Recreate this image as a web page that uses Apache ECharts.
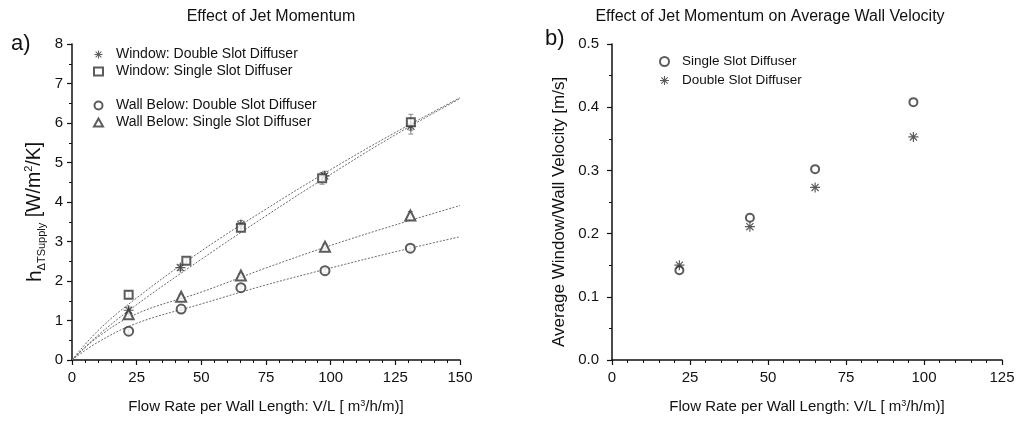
<!DOCTYPE html>
<html>
<head>
<meta charset="utf-8">
<script src="https://cdn.jsdelivr.net/npm/echarts@6/dist/echarts.min.js"></script>
<style>
  html, body { margin: 0; padding: 0; background: #fff; }
  #chart { width: 1021px; height: 422px; }
</style>
</head>
<body>
<div id="chart"></div>
<script>
// ---- panel a) measured points ----
const flowA = [21.9, 42.2, 65.3, 97.8, 130.8]
const windowDoubleX = [21.9, 41.9, 65.3, 97.7, 131.0]
const windowDouble = [1.26, 2.34, 3.43, 4.66, 5.92]
const windowDoubleErr = [0.08, 0.07, 0.1, 0.12, 0.2]
const windowSingleX = [21.9, 44.2, 65.3, 96.7, 131.0]
const windowSingle = [1.65, 2.51, 3.35, 4.6, 6.02]
const windowSingleErr = [0.09, 0.06, 0.08, 0.15, 0.2]
const wallDouble = [0.73, 1.29, 1.83, 2.26, 2.83]
const wallDoubleErr = [0.05, 0.04, 0.04, 0.05, 0.06]
const wallSingle = [1.16, 1.6, 2.14, 2.87, 3.66]
const wallSingleErr = [0.05, 0.05, 0.05, 0.06, 0.1]

// ---- panel a) fitted curves ----
const fitX = [0, 10, 25, 50, 75, 100, 125, 150]
const fitWindowDouble = [0, 0.62, 1.4, 2.55, 3.65, 4.7, 5.7, 6.62]
const fitWindowSingle = [0, 0.74, 1.57, 2.76, 3.82, 4.82, 5.76, 6.64]
const fitWallSingle = [0, 0.58, 1.17, 1.72, 2.33, 2.9, 3.42, 3.91]
const fitWallDouble = [0, 0.45, 0.93, 1.42, 1.9, 2.33, 2.74, 3.12]

// ---- panel b) ----
const flowB = [21.6, 44.2, 65.1, 96.6]
const velSingle = [0.142, 0.225, 0.302, 0.408]
const velDouble = [0.15, 0.211, 0.273, 0.353]

const STAR = 'path://M8.8,0L11.2,0L11.2,20L8.8,20Z M0,8.8L20,8.8L20,11.2L0,11.2Z M2,3.7L3.7,2L18,16.3L16.3,18Z M16.3,2L18,3.7L3.7,18L2,16.3Z'
const FONT = 'Liberation Sans'
const INK = '#333'

const zip = (xs, ys) => xs.map((x, i) => [x, ys[i]])
const zip3 = (xs, ys, es) => xs.map((x, i) => [x, ys[i], es[i]])

function errorBars(name, xAxisIndex, yAxisIndex, data) {
  return {
    name: name + ' err',
    type: 'custom',
    xAxisIndex,
    yAxisIndex,
    silent: true,
    z: 1,
    data,
    renderItem: (params, api) => {
      const x = api.value(0)
      const top = api.coord([x, api.value(1) + api.value(2)])
      const bot = api.coord([x, api.value(1) - api.value(2)])
      const style = { stroke: '#8a8a8a', lineWidth: 1 }
      return {
        type: 'group',
        children: [
          { type: 'line', shape: { x1: top[0], y1: top[1], x2: bot[0], y2: bot[1] }, style },
          { type: 'line', shape: { x1: top[0] - 2.5, y1: top[1], x2: top[0] + 2.5, y2: top[1] }, style },
          { type: 'line', shape: { x1: bot[0] - 2.5, y1: bot[1], x2: bot[0] + 2.5, y2: bot[1] }, style },
        ],
      }
    },
  }
}

function fitLine(name, data) {
  return {
    name,
    type: 'line',
    xAxisIndex: 0,
    yAxisIndex: 0,
    data,
    smooth: 0.4,
    showSymbol: false,
    silent: true,
    z: 1,
    lineStyle: { color: '#6a6a6a', width: 1, type: [2, 1.5] },
  }
}

function points(name, symbol, size, xAxisIndex, data) {
  const hollow = symbol.startsWith('empty')
  return {
    name,
    type: 'scatter',
    xAxisIndex,
    yAxisIndex: xAxisIndex,
    symbol,
    symbolSize: size,
    data,
    z: 3,
    itemStyle: hollow
      ? { color: INK, borderColor: INK, borderWidth: 1 }
      : { color: INK },
  }
}

function xAxisBase(gridIndex, max) {
  return {
    type: 'value',
    gridIndex,
    min: 0,
    max,
    interval: 25,
    axisLine: { lineStyle: { color: '#111', width: 1.5 } },
    axisTick: { length: 5, lineStyle: { color: '#111', width: 1.2 } },
    minorTick: { show: true, splitNumber: 5, length: 3, lineStyle: { color: '#111', width: 1 } },
    splitLine: { show: false },
    axisLabel: { color: '#111', fontSize: 15, fontFamily: FONT, margin: 10 },
    name: 'Flow Rate per Wall Length: V/L [ m{sup|3}/h/m)]',
    nameLocation: 'middle',
    nameGap: 39,
    nameTextStyle: {
      color: '#111', fontSize: 15, fontFamily: FONT,
      rich: { sup: { fontSize: 9, fontFamily: FONT, color: '#111', verticalAlign: 'top', lineHeight: 10 } },
    },
  }
}

function yAxisBase(gridIndex, max, interval, margin) {
  return {
    type: 'value',
    gridIndex,
    min: 0,
    max,
    interval,
    axisLine: { show: true, lineStyle: { color: '#111', width: 1.5 } },
    axisTick: { show: true, length: 5, lineStyle: { color: '#111', width: 1.2 } },
    minorTick: { show: true, splitNumber: 2, length: 3, lineStyle: { color: '#111', width: 1 } },
    splitLine: { show: false },
    axisLabel: { color: '#111', fontSize: 15, fontFamily: FONT, margin },
  }
}

const chart = echarts.init(document.getElementById('chart'), null, { renderer: 'canvas' })

const titleStyle = { fontSize: 16, fontWeight: 'normal', color: '#111', fontFamily: FONT }
const panelStyle = { fontSize: 22, fontWeight: 'normal', color: '#111', fontFamily: FONT }

const option = {
  animation: false,
  backgroundColor: '#fff',
  textStyle: { fontFamily: FONT },
  title: [
    { text: 'Effect of Jet Momentum', left: 266, top: 4, textAlign: 'center', textStyle: titleStyle },
    { text: 'Effect of Jet Momentum on Average Wall Velocity', left: 765, top: 4, textAlign: 'center', textStyle: titleStyle },
    { text: 'a)', left: 6, top: 28, textStyle: panelStyle },
    { text: 'b)', left: 540, top: 23, textStyle: panelStyle },
  ],
  legend: [
    {
      orient: 'vertical', left: 88, top: 41, itemWidth: 9, itemHeight: 8, itemGap: 0,
      textStyle: { fontSize: 14, color: '#111', fontFamily: FONT, lineHeight: 17, padding: [0, 0, 0, 8] },
      data: [
        { name: 'Window: Double Slot Diffuser', icon: STAR },
        { name: 'Window: Single Slot Diffuser', icon: 'emptyRect' },
      ],
    },
    {
      orient: 'vertical', left: 88, top: 92, itemWidth: 9, itemHeight: 8, itemGap: 0,
      textStyle: { fontSize: 14, color: '#111', fontFamily: FONT, lineHeight: 17, padding: [0, 0, 0, 8] },
      data: [
        { name: 'Wall Below: Double Slot Diffuser', icon: 'emptyCircle' },
        { name: 'Wall Below: Single Slot Diffuser', icon: 'emptyTriangle' },
      ],
    },
    {
      orient: 'vertical', left: 654, top: 47, itemWidth: 9, itemHeight: 9, itemGap: 0,
      textStyle: { fontSize: 13.5, color: '#111', fontFamily: FONT, lineHeight: 19, padding: [0, 0, 0, 8] },
      data: [
        { name: 'Single Slot Diffuser', icon: 'emptyCircle' },
        { name: 'Double Slot Diffuser', icon: STAR },
      ],
    },
  ],
  grid: [
    { left: 72, right: 561, top: 44, bottom: 62 },
    { left: 612, right: 19, top: 44, bottom: 62 },
  ],
  xAxis: [
    xAxisBase(0, 150),
    xAxisBase(1, 125),
  ],
  yAxis: [
    Object.assign(yAxisBase(0, 8, 1, 9), {
      name: '{h|h}{sub|ΔTSupply}{n| [W/m}{sup|2}{n|/K]}',
      nameLocation: 'middle',
      nameGap: 25,
      nameTextStyle: {
        color: '#111', fontSize: 19, fontFamily: FONT, padding: [0, 20, 0, 0],
        rich: {
          h: { fontSize: 21, fontFamily: FONT, color: '#111', lineHeight: 24 },
          n: { fontSize: 19.5, fontFamily: FONT, color: '#111', lineHeight: 24 },
          sub: { fontSize: 11, fontFamily: FONT, color: '#111', verticalAlign: 'bottom', lineHeight: 10 },
          sup: { fontSize: 11, fontFamily: FONT, color: '#111', verticalAlign: 'top', lineHeight: 12 },
        },
      },
    }),
    Object.assign(yAxisBase(1, 0.5, 0.1, 13), {
      axisLabel: { color: '#111', fontSize: 15, fontFamily: FONT, margin: 13, formatter: (v) => v.toFixed(1) },
      name: 'Average Window/Wall Velocity [m/s]',
      nameLocation: 'middle',
      nameGap: 44,
      nameTextStyle: { color: '#111', fontSize: 17, fontFamily: FONT, padding: [0, 20, 0, 0] },
    }),
  ],
  series: [
    fitLine('fit window double', zip(fitX, fitWindowDouble)),
    fitLine('fit window single', zip(fitX, fitWindowSingle)),
    fitLine('fit wall single', zip(fitX, fitWallSingle)),
    fitLine('fit wall double', zip(fitX, fitWallDouble)),
    errorBars('Window: Double Slot Diffuser', 0, 0, zip3(windowDoubleX, windowDouble, windowDoubleErr)),
    errorBars('Window: Single Slot Diffuser', 0, 0, zip3(windowSingleX, windowSingle, windowSingleErr)),
    errorBars('Wall Below: Double Slot Diffuser', 0, 0, zip3(flowA, wallDouble, wallDoubleErr)),
    errorBars('Wall Below: Single Slot Diffuser', 0, 0, zip3(flowA, wallSingle, wallSingleErr)),
    points('Window: Double Slot Diffuser', STAR, 10, 0, zip(windowDoubleX, windowDouble)),
    points('Window: Single Slot Diffuser', 'emptyRect', 8, 0, zip(windowSingleX, windowSingle)),
    points('Wall Below: Double Slot Diffuser', 'emptyCircle', 9, 0, zip(flowA, wallDouble)),
    points('Wall Below: Single Slot Diffuser', 'emptyTriangle', 10, 0, zip(flowA, wallSingle)),
    points('Single Slot Diffuser', 'emptyCircle', 8, 1, zip(flowB, velSingle)),
    points('Double Slot Diffuser', STAR, 10, 1, zip(flowB, velDouble)),
  ],
}

chart.setOption(option)
</script>
</body>
</html>
